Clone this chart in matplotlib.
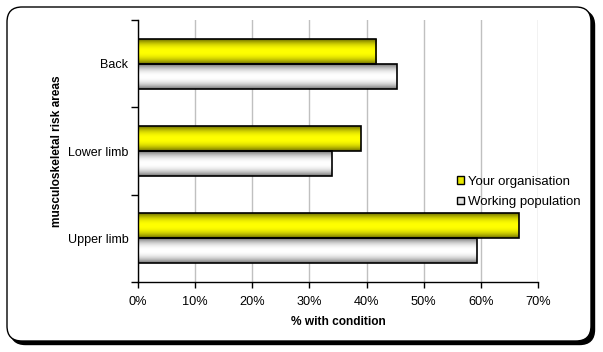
import numpy as np
import matplotlib
matplotlib.use("Agg")
import matplotlib.pyplot as plt
from matplotlib.patches import FancyBboxPatch, Patch
from matplotlib.transforms import IdentityTransform

plt.rcParams['font.family'] = ['Liberation Sans', 'DejaVu Sans']

# data ##########
areas = ["Back", "Lower limb", "Upper limb"]
your_org = [41.7, 39.0, 66.6]
working_pop = [45.3, 33.9, 59.3]
series_names = ["Your organisation", "Working population"]
xticks = [0, 10, 20, 30, 40, 50, 60, 70]
#################

W, H = 603, 352
fig = plt.figure(figsize=(W / 100, H / 100), dpi=100)
fig.patch.set_facecolor("white")

# rounded frame with shadow, in pixels (display coords)
x0, x1, top, bot = 7, 591, 7, 341
shadow = FancyBboxPatch((x0 + 3.5, H - bot - 3.5), x1 - x0, bot - top, transform=IdentityTransform(),
                        boxstyle="round,pad=0,rounding_size=15",
                        facecolor="black", edgecolor="black", lw=1, zorder=0)
frame = FancyBboxPatch((x0, H - bot), x1 - x0, bot - top, transform=IdentityTransform(),
                       boxstyle="round,pad=0,rounding_size=15",
                       facecolor="white", edgecolor="black", lw=1, zorder=1)
fig.patches.extend([shadow, frame])

ax = fig.add_axes([138 / W, 1 - 282 / H, 400 / W, 262 / H])
ax.set_zorder(5)
ax.set_facecolor("none")

pos = np.arange(len(areas))
h = 0.286
bars1 = ax.barh(pos - h / 2, your_org, height=h, facecolor="none", edgecolor="black", lw=1.2, zorder=3)
bars2 = ax.barh(pos + h / 2, working_pop, height=h, facecolor="none", edgecolor="black", lw=1.2, zorder=3)

t = np.linspace(0, 1, 64)
v = 1 - np.abs(2 * t - 1) ** 2.2
def grad(dark, bright):
    dark = np.array(dark)
    bright = np.array(bright)
    return (dark[None, :] + (bright - dark)[None, :] * v[:, None])[:, None, :]

yellow_img = grad((0.42, 0.42, 0.0), (1.0, 1.0, 0.0))
grey_img = grad((0.45, 0.45, 0.45), (1.0, 1.0, 1.0))
for bars, img in ((bars1, yellow_img), (bars2, grey_img)):
    for p in bars:
        bx, byy = p.get_x(), p.get_y()
        ax.imshow(img, extent=[bx, bx + p.get_width(), byy, byy + p.get_height()],
                  aspect="auto", zorder=2, interpolation="bilinear", origin="lower")

ax.set_xlim(0, 70)
ax.set_ylim(len(areas) - 0.5, -0.5)

ax.set_xticks(xticks)
ax.set_xticklabels([f"{x}%" for x in xticks], fontsize=9.2)
ax.tick_params(axis="x", length=4, width=1, pad=6, direction="out")
ax.xaxis.grid(True, color="#c0c0c0", lw=1, zorder=0)
ax.set_axisbelow(True)

ax.set_yticks(pos)
ax.set_yticklabels(areas, fontsize=9)
ax.tick_params(axis="y", which="major", length=0, pad=7)
ax.set_yticks(np.arange(-0.5, len(areas)), minor=True)
ax.tick_params(axis="y", which="minor", length=5, width=1, direction="out")

for s in ("top", "right"):
    ax.spines[s].set_visible(False)
ax.spines["left"].set_linewidth(1)
ax.spines["bottom"].set_linewidth(1)

ax.set_xlabel("% with condition", fontsize=8.6, fontweight="bold", labelpad=6)
ax.set_ylabel("musculoskeletal risk areas", fontsize=8.6, fontweight="bold", labelpad=3)

handles = [Patch(facecolor="#e8e800", edgecolor="black", lw=1),
           Patch(facecolor="#e0e0e0", edgecolor="black", lw=1)]
leg = fig.legend(handles, series_names, loc="center left", bbox_to_anchor=(457 / W, 1 - 192 / H),
                 frameon=False, fontsize=9.5, handlelength=0.5, handleheight=0.5,
                 handletextpad=0.35, labelspacing=0.65, borderaxespad=0, borderpad=0)
leg.set_zorder(6)

fig.savefig("out.png", dpi=100)
